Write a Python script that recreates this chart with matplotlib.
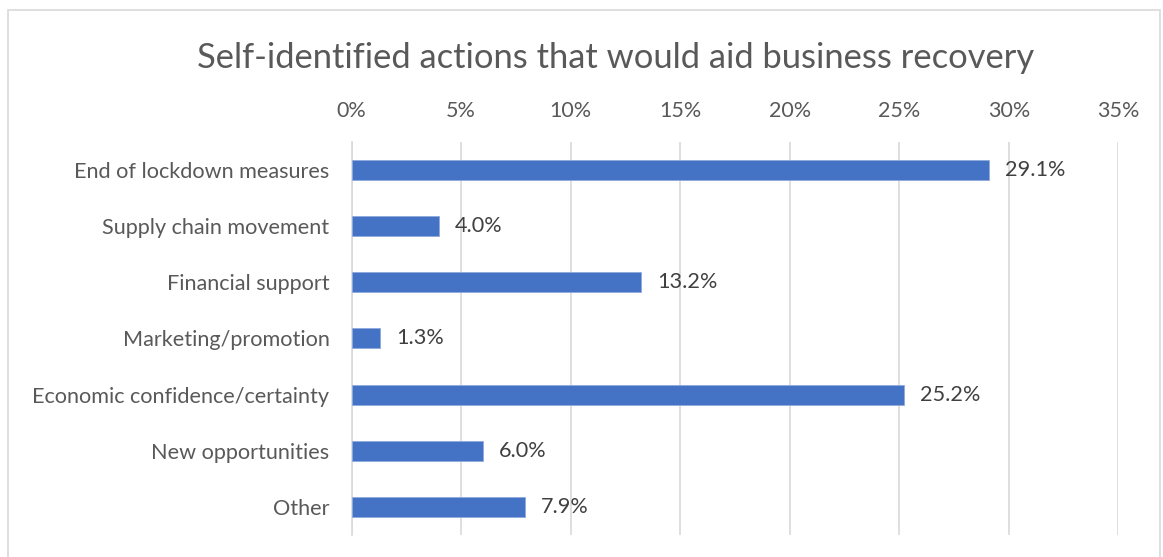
import matplotlib
matplotlib.use("Agg")
import matplotlib.pyplot as plt
from matplotlib.patches import Rectangle

categories = ["End of lockdown measures", "Supply chain movement", "Financial support",
              "Marketing/promotion", "Economic confidence/certainty", "New opportunities", "Other"]
values = [29.1, 4.0, 13.2, 1.3, 25.2, 6.0, 7.9]
xticks = [0, 5, 10, 15, 20, 25, 30, 35]
xtick_labels = [f"{t}%" for t in xticks]
title = "Self-identified actions that would aid business recovery"

plt.rcParams['font.family'] = ['Lato', 'DejaVu Sans']

W, H = 1163, 557
fig = plt.figure(figsize=(W / 100, H / 100), dpi=100)
fig.patches.append(Rectangle((8 / W, -0.05), (1160 - 8) / W, (H - 10) / H + 0.05, transform=fig.transFigure,
                             fill=False, edgecolor='#d9d9d9', linewidth=1.2))

left, right = 351.7, 1118.3
top, bottom = 141.7, 535
ax = fig.add_axes([left / W, 1 - bottom / H, (right - left) / W, (bottom - top) / H])

y = list(range(len(categories)))
ax.barh(y, values, height=0.356, color='#4472C4', edgecolor='#8faadc', linewidth=0.6, zorder=3)
for yi, v in zip(y, values):
    ax.annotate(f"{v:.1f}%", (v, yi), xytext=(11.5, 0), textcoords='offset points',
                va='center', ha='left', fontsize=15.6, color='#404040')

ax.set_xlim(0, 35)
ax.set_ylim(len(categories) - 0.5, -0.5)
ax.set_xticks(xticks)
ax.set_xticklabels(xtick_labels)
ax.xaxis.tick_top()
ax.tick_params(axis='x', length=0, pad=15, labelsize=15.5, labelcolor='#595959')
ax.set_yticks(y)
ax.set_yticklabels(categories)
ax.tick_params(axis='y', length=0, pad=16, labelsize=15.6, labelcolor='#595959')
ax.grid(axis='x', color='#d9d9d9', linewidth=1.2, zorder=0)
for s in ['top', 'right', 'bottom']:
    ax.spines[s].set_visible(False)
ax.spines['left'].set_color('#d9d9d9')
ax.spines['left'].set_linewidth(1.2)

fig.text(615.5 / W, 1 - 58 / H, title, ha='center', va='center', fontsize=24.8, color='#595959')

fig.savefig("out.png", dpi=100)
